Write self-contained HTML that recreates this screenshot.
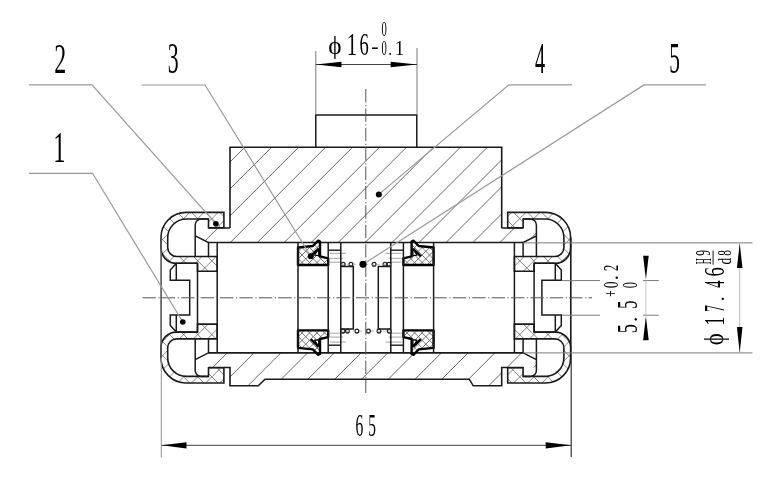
<!DOCTYPE html>
<html><head><meta charset="utf-8"><style>
html,body{margin:0;padding:0;background:#fff;width:781px;height:486px;overflow:hidden}
svg{display:block;font-family:"Liberation Serif",serif}
svg{will-change:transform}
</style></head><body><svg width="781" height="486" viewBox="0 0 781 486"><defs><clipPath id="cbt"><path d="M230 147.2H501.7V228H536.4V236L523.3 242.5H208.3L195.2 235.8V228H230Z"/></clipPath><clipPath id="cbb"><path d="M208.3 352.9H523.3L536.4 359.4V367.5H501.7V385.8H473.3L469.2 379.2H265L258.3 385.8H230V367.5H195.2V359.6Z"/></clipPath><clipPath id="ccap"><path d="M223.9 212.4H186A25 25 0 0 0 161 237.4V248A15.3 15.3 0 0 0 176.3 263.3H197.5V271.3H217.2V256.5H176.7A9 9 0 0 1 167.7 247.5V237.7A18.7 18.7 0 0 1 186.4 219H208.5V227.7H223.9Z"/></clipPath><clipPath id="cseal"><path d="M298 247.5L312.8 246L318.2 240.6L320 241.5V256.4L328.2 258.3V265H298Z"/></clipPath></defs><rect width="781" height="486" fill="#fff"/><path d="M88.01 250.00L198.01 140.00M114.97 250.00L224.97 140.00M141.93 250.00L251.93 140.00M168.89 250.00L278.89 140.00M195.85 250.00L305.85 140.00M222.81 250.00L332.81 140.00M249.77 250.00L359.77 140.00M276.73 250.00L386.73 140.00M303.69 250.00L413.69 140.00M330.65 250.00L440.65 140.00M357.61 250.00L467.61 140.00M384.57 250.00L494.57 140.00M411.53 250.00L521.53 140.00M438.49 250.00L548.49 140.00M465.45 250.00L575.45 140.00M492.41 250.00L602.41 140.00M519.37 250.00L629.37 140.00M546.33 250.00L656.33 140.00" stroke="#555" stroke-width="0.9" fill="none" clip-path="url(#cbt)"/><path d="M136.63 390.00L181.63 345.00M163.39 390.00L208.39 345.00M190.15 390.00L235.15 345.00M216.91 390.00L261.91 345.00M243.67 390.00L288.67 345.00M270.43 390.00L315.43 345.00M297.19 390.00L342.19 345.00M323.95 390.00L368.95 345.00M350.71 390.00L395.71 345.00M377.47 390.00L422.47 345.00M404.23 390.00L449.23 345.00M430.99 390.00L475.99 345.00M457.75 390.00L502.75 345.00M484.51 390.00L529.51 345.00M511.27 390.00L556.27 345.00M538.03 390.00L583.03 345.00" stroke="#555" stroke-width="0.9" fill="none" clip-path="url(#cbb)"/><path d="M315.8 147.2V115H416.8V147.2" stroke="#1a1a1a" stroke-width="1.5" fill="none"/><path d="M230 228V147.2H501.7V228M208.3 228H230M501.7 228H523.3M208.3 242.5H523.3" stroke="#1a1a1a" stroke-width="1.6" fill="none"/><path d="M208.3 352.9H523.3M208.3 367.5H230V385.8H258.3L265 379.2H469.2L473.3 385.8H501.7V367.5H523.3" stroke="#1a1a1a" stroke-width="1.6" fill="none"/><g><path d="M70.80 275.00L140.80 205.00M84.90 275.00L154.90 205.00M99.00 275.00L169.00 205.00M113.10 275.00L183.10 205.00M127.20 275.00L197.20 205.00M141.30 275.00L211.30 205.00M155.40 275.00L225.40 205.00M169.50 275.00L239.50 205.00M183.60 275.00L253.60 205.00M197.70 275.00L267.70 205.00M211.80 275.00L281.80 205.00M225.90 275.00L295.90 205.00M240.00 275.00L310.00 205.00M71.40 205.00L141.40 275.00M85.50 205.00L155.50 275.00M99.60 205.00L169.60 275.00M113.70 205.00L183.70 275.00M127.80 205.00L197.80 275.00M141.90 205.00L211.90 275.00M156.00 205.00L226.00 275.00M170.10 205.00L240.10 275.00M184.20 205.00L254.20 275.00M198.30 205.00L268.30 275.00M212.40 205.00L282.40 275.00M226.50 205.00L296.50 275.00M240.60 205.00L310.60 275.00" stroke="#666" stroke-width="0.8" fill="none" clip-path="url(#ccap)"/><path d="M223.9 212.4H186A25 25 0 0 0 161 237.4V248A15.3 15.3 0 0 0 176.3 263.3H197.5V271.3H217.2V256.5H176.7A9 9 0 0 1 167.7 247.5V237.7A18.7 18.7 0 0 1 186.4 219H208.5V227.7H223.9Z" stroke="#1a1a1a" stroke-width="1.6" fill="none"/><path d="M208.5 219H201.2A6 6 0 0 0 195.2 225V256.5M195.2 235.8L208.5 242.5V256.5" stroke="#1a1a1a" stroke-width="1.5" fill="none"/><path d="M197.5 263.3H176.3L170.3 270V280.3H189.7V297.6M176.3 263.3V280.3" stroke="#1a1a1a" stroke-width="1.5" fill="none"/></g><g transform="translate(731.60 0) scale(-1 1)"><path d="M70.80 275.00L140.80 205.00M84.90 275.00L154.90 205.00M99.00 275.00L169.00 205.00M113.10 275.00L183.10 205.00M127.20 275.00L197.20 205.00M141.30 275.00L211.30 205.00M155.40 275.00L225.40 205.00M169.50 275.00L239.50 205.00M183.60 275.00L253.60 205.00M197.70 275.00L267.70 205.00M211.80 275.00L281.80 205.00M225.90 275.00L295.90 205.00M240.00 275.00L310.00 205.00M71.40 205.00L141.40 275.00M85.50 205.00L155.50 275.00M99.60 205.00L169.60 275.00M113.70 205.00L183.70 275.00M127.80 205.00L197.80 275.00M141.90 205.00L211.90 275.00M156.00 205.00L226.00 275.00M170.10 205.00L240.10 275.00M184.20 205.00L254.20 275.00M198.30 205.00L268.30 275.00M212.40 205.00L282.40 275.00M226.50 205.00L296.50 275.00M240.60 205.00L310.60 275.00" stroke="#666" stroke-width="0.8" fill="none" clip-path="url(#ccap)"/><path d="M223.9 212.4H186A25 25 0 0 0 161 237.4V248A15.3 15.3 0 0 0 176.3 263.3H197.5V271.3H217.2V256.5H176.7A9 9 0 0 1 167.7 247.5V237.7A18.7 18.7 0 0 1 186.4 219H208.5V227.7H223.9Z" stroke="#1a1a1a" stroke-width="1.6" fill="none"/><path d="M208.5 219H201.2A6 6 0 0 0 195.2 225V256.5M195.2 235.8L208.5 242.5V256.5" stroke="#1a1a1a" stroke-width="1.5" fill="none"/><path d="M197.5 263.3H176.3L170.3 270V280.3H189.7V297.6M176.3 263.3V280.3" stroke="#1a1a1a" stroke-width="1.5" fill="none"/></g><g transform="translate(0 595.40) scale(1 -1)"><path d="M70.80 275.00L140.80 205.00M84.90 275.00L154.90 205.00M99.00 275.00L169.00 205.00M113.10 275.00L183.10 205.00M127.20 275.00L197.20 205.00M141.30 275.00L211.30 205.00M155.40 275.00L225.40 205.00M169.50 275.00L239.50 205.00M183.60 275.00L253.60 205.00M197.70 275.00L267.70 205.00M211.80 275.00L281.80 205.00M225.90 275.00L295.90 205.00M240.00 275.00L310.00 205.00M71.40 205.00L141.40 275.00M85.50 205.00L155.50 275.00M99.60 205.00L169.60 275.00M113.70 205.00L183.70 275.00M127.80 205.00L197.80 275.00M141.90 205.00L211.90 275.00M156.00 205.00L226.00 275.00M170.10 205.00L240.10 275.00M184.20 205.00L254.20 275.00M198.30 205.00L268.30 275.00M212.40 205.00L282.40 275.00M226.50 205.00L296.50 275.00M240.60 205.00L310.60 275.00" stroke="#666" stroke-width="0.8" fill="none" clip-path="url(#ccap)"/><path d="M223.9 212.4H186A25 25 0 0 0 161 237.4V248A15.3 15.3 0 0 0 176.3 263.3H197.5V271.3H217.2V256.5H176.7A9 9 0 0 1 167.7 247.5V237.7A18.7 18.7 0 0 1 186.4 219H208.5V227.7H223.9Z" stroke="#1a1a1a" stroke-width="1.6" fill="none"/><path d="M208.5 219H201.2A6 6 0 0 0 195.2 225V256.5M195.2 235.8L208.5 242.5V256.5" stroke="#1a1a1a" stroke-width="1.5" fill="none"/><path d="M197.5 263.3H176.3L170.3 270V280.3H189.7V297.6M176.3 263.3V280.3" stroke="#1a1a1a" stroke-width="1.5" fill="none"/></g><g transform="translate(731.60 595.40) scale(-1 -1)"><path d="M70.80 275.00L140.80 205.00M84.90 275.00L154.90 205.00M99.00 275.00L169.00 205.00M113.10 275.00L183.10 205.00M127.20 275.00L197.20 205.00M141.30 275.00L211.30 205.00M155.40 275.00L225.40 205.00M169.50 275.00L239.50 205.00M183.60 275.00L253.60 205.00M197.70 275.00L267.70 205.00M211.80 275.00L281.80 205.00M225.90 275.00L295.90 205.00M240.00 275.00L310.00 205.00M71.40 205.00L141.40 275.00M85.50 205.00L155.50 275.00M99.60 205.00L169.60 275.00M113.70 205.00L183.70 275.00M127.80 205.00L197.80 275.00M141.90 205.00L211.90 275.00M156.00 205.00L226.00 275.00M170.10 205.00L240.10 275.00M184.20 205.00L254.20 275.00M198.30 205.00L268.30 275.00M212.40 205.00L282.40 275.00M226.50 205.00L296.50 275.00M240.60 205.00L310.60 275.00" stroke="#666" stroke-width="0.8" fill="none" clip-path="url(#ccap)"/><path d="M223.9 212.4H186A25 25 0 0 0 161 237.4V248A15.3 15.3 0 0 0 176.3 263.3H197.5V271.3H217.2V256.5H176.7A9 9 0 0 1 167.7 247.5V237.7A18.7 18.7 0 0 1 186.4 219H208.5V227.7H223.9Z" stroke="#1a1a1a" stroke-width="1.6" fill="none"/><path d="M208.5 219H201.2A6 6 0 0 0 195.2 225V256.5M195.2 235.8L208.5 242.5V256.5" stroke="#1a1a1a" stroke-width="1.5" fill="none"/><path d="M197.5 263.3H176.3L170.3 270V280.3H189.7V297.6M176.3 263.3V280.3" stroke="#1a1a1a" stroke-width="1.5" fill="none"/></g><g><path d="M259.00 268.00L289.00 238.00M266.50 268.00L296.50 238.00M274.00 268.00L304.00 238.00M281.50 268.00L311.50 238.00M289.00 268.00L319.00 238.00M296.50 268.00L326.50 238.00M304.00 268.00L334.00 238.00M311.50 268.00L341.50 238.00M319.00 268.00L349.00 238.00M326.50 268.00L356.50 238.00M334.00 268.00L364.00 238.00M262.50 238.00L292.50 268.00M270.00 238.00L300.00 268.00M277.50 238.00L307.50 268.00M285.00 238.00L315.00 268.00M292.50 238.00L322.50 268.00M300.00 238.00L330.00 268.00M307.50 238.00L337.50 268.00M315.00 238.00L345.00 268.00M322.50 238.00L352.50 268.00M330.00 238.00L360.00 268.00M337.50 238.00L367.50 268.00" stroke="#555" stroke-width="0.8" fill="none" clip-path="url(#cseal)"/><path d="M298 247.5L312.8 246L318.2 240.6L320 241.5V256.4L328.2 258.3V265H298Z" stroke="#000" stroke-width="2.4" fill="none" stroke-linejoin="round"/><path d="M314.6 255.2L318.7 248.8V255.6Z" fill="#fff" stroke="#000" stroke-width="1.2" stroke-linejoin="round"/><path d="M310.7 256.3L318.4 248.8" stroke="#000" stroke-width="2.4" fill="none"/><path d="M328.2 250.2H340.8" stroke="#1a1a1a" stroke-width="1.4"/><path d="M330 253.3H346M330 258.3H343M330 262.2H341" stroke="#999" stroke-width="0.9"/><path d="M340.8 266.4H353.3V297.6" stroke="#1a1a1a" stroke-width="1.5" fill="none"/></g><g transform="translate(731.60 0) scale(-1 1)"><path d="M259.00 268.00L289.00 238.00M266.50 268.00L296.50 238.00M274.00 268.00L304.00 238.00M281.50 268.00L311.50 238.00M289.00 268.00L319.00 238.00M296.50 268.00L326.50 238.00M304.00 268.00L334.00 238.00M311.50 268.00L341.50 238.00M319.00 268.00L349.00 238.00M326.50 268.00L356.50 238.00M334.00 268.00L364.00 238.00M262.50 238.00L292.50 268.00M270.00 238.00L300.00 268.00M277.50 238.00L307.50 268.00M285.00 238.00L315.00 268.00M292.50 238.00L322.50 268.00M300.00 238.00L330.00 268.00M307.50 238.00L337.50 268.00M315.00 238.00L345.00 268.00M322.50 238.00L352.50 268.00M330.00 238.00L360.00 268.00M337.50 238.00L367.50 268.00" stroke="#555" stroke-width="0.8" fill="none" clip-path="url(#cseal)"/><path d="M298 247.5L312.8 246L318.2 240.6L320 241.5V256.4L328.2 258.3V265H298Z" stroke="#000" stroke-width="2.4" fill="none" stroke-linejoin="round"/><path d="M314.6 255.2L318.7 248.8V255.6Z" fill="#fff" stroke="#000" stroke-width="1.2" stroke-linejoin="round"/><path d="M310.7 256.3L318.4 248.8" stroke="#000" stroke-width="2.4" fill="none"/><path d="M328.2 250.2H340.8" stroke="#1a1a1a" stroke-width="1.4"/><path d="M330 253.3H346M330 258.3H343M330 262.2H341" stroke="#999" stroke-width="0.9"/><path d="M340.8 266.4H353.3V297.6" stroke="#1a1a1a" stroke-width="1.5" fill="none"/></g><g transform="translate(0 595.40) scale(1 -1)"><path d="M259.00 268.00L289.00 238.00M266.50 268.00L296.50 238.00M274.00 268.00L304.00 238.00M281.50 268.00L311.50 238.00M289.00 268.00L319.00 238.00M296.50 268.00L326.50 238.00M304.00 268.00L334.00 238.00M311.50 268.00L341.50 238.00M319.00 268.00L349.00 238.00M326.50 268.00L356.50 238.00M334.00 268.00L364.00 238.00M262.50 238.00L292.50 268.00M270.00 238.00L300.00 268.00M277.50 238.00L307.50 268.00M285.00 238.00L315.00 268.00M292.50 238.00L322.50 268.00M300.00 238.00L330.00 268.00M307.50 238.00L337.50 268.00M315.00 238.00L345.00 268.00M322.50 238.00L352.50 268.00M330.00 238.00L360.00 268.00M337.50 238.00L367.50 268.00" stroke="#555" stroke-width="0.8" fill="none" clip-path="url(#cseal)"/><path d="M298 247.5L312.8 246L318.2 240.6L320 241.5V256.4L328.2 258.3V265H298Z" stroke="#000" stroke-width="2.4" fill="none" stroke-linejoin="round"/><path d="M314.6 255.2L318.7 248.8V255.6Z" fill="#fff" stroke="#000" stroke-width="1.2" stroke-linejoin="round"/><path d="M310.7 256.3L318.4 248.8" stroke="#000" stroke-width="2.4" fill="none"/><path d="M328.2 250.2H340.8" stroke="#1a1a1a" stroke-width="1.4"/><path d="M330 253.3H346M330 258.3H343M330 262.2H341" stroke="#999" stroke-width="0.9"/><path d="M340.8 266.4H353.3V297.6" stroke="#1a1a1a" stroke-width="1.5" fill="none"/></g><g transform="translate(731.60 595.40) scale(-1 -1)"><path d="M259.00 268.00L289.00 238.00M266.50 268.00L296.50 238.00M274.00 268.00L304.00 238.00M281.50 268.00L311.50 238.00M289.00 268.00L319.00 238.00M296.50 268.00L326.50 238.00M304.00 268.00L334.00 238.00M311.50 268.00L341.50 238.00M319.00 268.00L349.00 238.00M326.50 268.00L356.50 238.00M334.00 268.00L364.00 238.00M262.50 238.00L292.50 268.00M270.00 238.00L300.00 268.00M277.50 238.00L307.50 268.00M285.00 238.00L315.00 268.00M292.50 238.00L322.50 268.00M300.00 238.00L330.00 268.00M307.50 238.00L337.50 268.00M315.00 238.00L345.00 268.00M322.50 238.00L352.50 268.00M330.00 238.00L360.00 268.00M337.50 238.00L367.50 268.00" stroke="#555" stroke-width="0.8" fill="none" clip-path="url(#cseal)"/><path d="M298 247.5L312.8 246L318.2 240.6L320 241.5V256.4L328.2 258.3V265H298Z" stroke="#000" stroke-width="2.4" fill="none" stroke-linejoin="round"/><path d="M314.6 255.2L318.7 248.8V255.6Z" fill="#fff" stroke="#000" stroke-width="1.2" stroke-linejoin="round"/><path d="M310.7 256.3L318.4 248.8" stroke="#000" stroke-width="2.4" fill="none"/><path d="M328.2 250.2H340.8" stroke="#1a1a1a" stroke-width="1.4"/><path d="M330 253.3H346M330 258.3H343M330 262.2H341" stroke="#999" stroke-width="0.9"/><path d="M340.8 266.4H353.3V297.6" stroke="#1a1a1a" stroke-width="1.5" fill="none"/></g><path d="M217.2 242.5V352.8M514.4 242.5V352.8" stroke="#1a1a1a" stroke-width="1.5"/><path d="M298.0 242.5V352.8M433.6 242.5V352.8" stroke="#1a1a1a" stroke-width="1.5"/><path d="M328.2 242.5V352.8M403.4 242.5V352.8" stroke="#1a1a1a" stroke-width="1.5"/><path d="M340.8 242.5V352.8M390.8 242.5V352.8" stroke="#1a1a1a" stroke-width="1.5"/><path d="M197.5 263.3V331.9M534.1 263.3V331.9" stroke="#1a1a1a" stroke-width="1.5"/><path d="M161.1 237.4V357.8" stroke="#555" stroke-width="1.6"/><path d="M570.8 237.4V357.8" stroke="#1a1a1a" stroke-width="1.6"/><path d="M161.3 357.8V457.5" stroke="#999" stroke-width="1.1"/><path d="M571.2 357.8V457" stroke="#333" stroke-width="1.2"/><path d="M523.3 242.9H752.4M523.3 352.9H752.4" stroke="#7a7a7a" stroke-width="1"/><circle cx="343.2" cy="264.3" r="1.9" fill="none" stroke="#222" stroke-width="1.3"/><circle cx="351.0" cy="264.3" r="1.9" fill="none" stroke="#222" stroke-width="1.3"/><circle cx="374.1" cy="264.3" r="1.9" fill="none" stroke="#222" stroke-width="1.3"/><circle cx="385.0" cy="264.3" r="1.9" fill="none" stroke="#222" stroke-width="1.3"/><circle cx="388.9" cy="264.3" r="1.9" fill="none" stroke="#222" stroke-width="1.3"/><circle cx="363.0" cy="264.3" r="3.3" fill="#000" stroke="#222" stroke-width="0.5"/><circle cx="343.0" cy="331.1" r="1.9" fill="none" stroke="#222" stroke-width="1.3"/><circle cx="347.5" cy="331.1" r="1.9" fill="none" stroke="#222" stroke-width="1.3"/><circle cx="356.9" cy="331.1" r="1.9" fill="none" stroke="#222" stroke-width="1.3"/><circle cx="368.4" cy="331.1" r="1.9" fill="none" stroke="#222" stroke-width="1.3"/><circle cx="379.0" cy="331.1" r="1.9" fill="none" stroke="#222" stroke-width="1.3"/><circle cx="389.3" cy="331.1" r="1.9" fill="none" stroke="#222" stroke-width="1.3"/><path d="M341 264.3H391M341 331.1H391" stroke="#aaa" stroke-width="0.8" stroke-dasharray="3 3"/><path d="M142.4 297.8H592" stroke="#555" stroke-width="1" stroke-dasharray="13.4 2.6 1.2 2.2"/><path d="M365.8 89V393" stroke="#555" stroke-width="1" stroke-dasharray="13.4 2.6 1.2 2.2"/><path d="M29.0 84.9L92.0 84.9L215.9 223.7" stroke="#999" stroke-width="1.2" fill="none"/><circle cx="215.9" cy="223.7" r="2.8" fill="#000"/><path d="M141.3 85.0L205.0 85.0L310.8 256.2" stroke="#999" stroke-width="1.2" fill="none"/><circle cx="310.8" cy="256.2" r="3.0" fill="#000"/><path d="M29.0 173.3L92.5 173.3L182.8 322.0" stroke="#999" stroke-width="1.2" fill="none"/><circle cx="182.8" cy="322.0" r="2.8" fill="#000"/><path d="M572.0 84.9L508.8 84.9L378.8 194.4" stroke="#999" stroke-width="1.2" fill="none"/><circle cx="378.8" cy="194.6" r="3.0" fill="#000"/><path d="M706.0 84.9L644.0 84.9L363.0 264.3" stroke="#999" stroke-width="1.2" fill="none"/><circle cx="363.0" cy="264.3" r="3.3" fill="#000"/><text transform="translate(54.15 72.90) scale(0.558 1)" font-size="42.89" fill="#000">2</text><text transform="translate(167.76 73.28) scale(0.501 1)" font-size="43.46" fill="#000">3</text><text transform="translate(53.25 161.70) scale(0.545 1)" font-size="44.84" fill="#000">1</text><text transform="translate(535.01 73.30) scale(0.462 1)" font-size="43.76" fill="#000">4</text><text transform="translate(669.16 73.27) scale(0.486 1)" font-size="43.94" fill="#000">5</text><path d="M315.8 51V115M417 48V115" stroke="#7a7a7a" stroke-width="1"/><path d="M315.8 64.5H417" stroke="#444" stroke-width="1"/><path d="M315.8 64.5L341.5 67.3L341.5 61.7Z" fill="#000"/><path d="M417.0 64.5L390.7 61.7L390.7 67.3Z" fill="#000"/><text transform="translate(328.15 53.56) scale(0.973 1)" font-size="26.03" fill="#000">&#981;</text><text transform="translate(346.68 55.20) scale(0.674 1)" font-size="30.75" fill="#000">1</text><text transform="translate(359.51 54.90) scale(0.594 1)" font-size="31.11" fill="#000">6</text><text transform="translate(371.29 52.98) scale(1.093 1)" font-size="20.08" fill="#000">-</text><text transform="translate(381.60 35.80) scale(0.512 1)" font-size="20.75" fill="#000">0</text><text transform="translate(381.60 55.00) scale(0.508 1)" font-size="20.89" fill="#000">0</text><text transform="translate(388.51 54.94) scale(0.727 1)" font-size="18.62" fill="#000">.</text><text transform="translate(394.73 55.20) scale(0.891 1)" font-size="21.36" fill="#000">1</text><path d="M161.5 445.3H571.2" stroke="#444" stroke-width="1"/><path d="M161.5 445.3L186.5 448.4L186.5 442.2Z" fill="#000"/><path d="M571.2 445.3L545.7 442.2L545.7 448.4Z" fill="#000"/><text transform="translate(355.58 436.39) scale(0.491 1)" font-size="31.70" fill="#000">6</text><text transform="translate(368.31 436.20) scale(0.494 1)" font-size="31.15" fill="#000">5</text><path d="M561.7 280.6H600M643 280.6H658.8M561.7 315.2H600M643 315.2H658.8" stroke="#7a7a7a" stroke-width="1"/><path d="M645.9 280.6V315.2" stroke="#bbb" stroke-width="0.8"/><path d="M645.9 279.5L648.7 255.8L643.1 255.8Z" fill="#000"/><path d="M645.9 316.3L643.1 340.3L648.7 340.3Z" fill="#000"/><text transform="translate(636.91 333.17) rotate(-90) scale(0.629 1)" font-size="29.19" fill="#000">5</text><text transform="translate(637.20 321.99) rotate(-90) scale(1.000 1)" font-size="21.16" fill="#000">.</text><text transform="translate(636.91 308.75) rotate(-90) scale(0.561 1)" font-size="29.19" fill="#000">5</text><text transform="translate(617.07 296.76) rotate(-90) scale(0.627 1)" font-size="17.82" fill="#000">+</text><text transform="translate(618.39 288.22) rotate(-90) scale(0.646 1)" font-size="21.19" fill="#000">0</text><text transform="translate(618.20 280.34) rotate(-90) scale(0.960 1)" font-size="21.16" fill="#000">.</text><text transform="translate(618.10 270.95) rotate(-90) scale(0.598 1)" font-size="20.84" fill="#000">2</text><text transform="translate(636.99 288.18) rotate(-90) scale(0.582 1)" font-size="21.49" fill="#000">0</text><path d="M739.7 243V353" stroke="#aaa" stroke-width="0.8"/><path d="M739.7 243.5L736.9 268.0L742.5 268.0Z" fill="#000"/><path d="M739.7 352.5L742.5 327.0L736.9 327.0Z" fill="#000"/><text transform="translate(722.94 345.17) rotate(-90) scale(0.863 1)" font-size="26.58" fill="#000">&#981;</text><text transform="translate(724.20 325.55) rotate(-90) scale(0.609 1)" font-size="28.93" fill="#000">1</text><text transform="translate(724.20 311.89) rotate(-90) scale(0.451 1)" font-size="30.09" fill="#000">7</text><text transform="translate(723.91 301.39) rotate(-90) scale(1.042 1)" font-size="20.31" fill="#000">.</text><text transform="translate(724.20 287.79) rotate(-90) scale(0.489 1)" font-size="29.93" fill="#000">4</text><text transform="translate(723.91 276.60) rotate(-90) scale(0.639 1)" font-size="29.32" fill="#000">6</text><text transform="translate(710.70 264.24) rotate(-90) scale(0.374 1)" font-size="22.14" fill="#000">H</text><text transform="translate(710.49 255.77) rotate(-90) scale(0.532 1)" font-size="21.58" fill="#000">9</text><text transform="translate(730.82 264.49) rotate(-90) scale(0.731 1)" font-size="18.48" fill="#000">d</text><text transform="translate(730.81 255.84) rotate(-90) scale(0.600 1)" font-size="19.26" fill="#000">8</text><path d="M713.1 250.5V264.7" stroke="#000" stroke-width="0.9"/></svg></body></html>
